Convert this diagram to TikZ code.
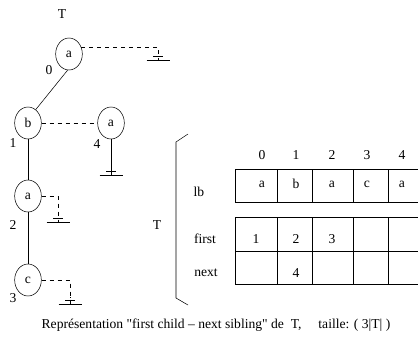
\documentclass[tikz,border=0pt]{standalone}
\usepackage{fontspec}
\setmainfont{Liberation Serif}
\usetikzlibrary{shapes.geometric}

\tikzset{
	vtx/.style={draw, ellipse, minimum width=20pt, minimum height=24pt, inner sep=0pt},
	gnd/.pic={\draw (-11.5,0) -- (11.5,0); \draw (-5,3.5) -- (5,3.5); \draw (0,6) -- (0,7);}
}

\begin{document}
\begin{tikzpicture}[x=0.75pt,y=0.75pt,yscale=-1,xscale=1,font=\fontsize{10.2}{12}\selectfont]
			\useasboundingbox (0,0) rectangle (418,351);

			%Tree nodes
			\node (tT) at (62,14) {T};
			\node [vtx] (n0) at (69,54) {a};
			\node [vtx] (n1) at (28,123) {b};
			\node [vtx] (n4) at (111,123) {a};
			\node [vtx] (n2) at (28,196) {a};
			\node [vtx] (n3) at (28,280) {c};
			\node (l0) at (49,70) {0};
			\node (l1) at (13,143) {1};
			\node (l4) at (97,144) {4};
			\node (l2) at (13,225) {2};
			\node (l3) at (13,298) {3};

			%Ground points
			\coordinate (g0) at (158,60);
			\coordinate (g4) at (111,175);
			\coordinate (g2) at (58,222);
			\coordinate (g3) at (70,304);

			%Child links
			\draw (n0.-95) -- (n1.60);
			\draw (n1) -- (n2);
			\draw (n2) -- (n3);
			\draw (n4) -- (g4);
			%Sibling links
			\draw [dashed] (n0.30) -| (g0);
			\draw [dashed] (n1.east) -- (n4.west);
			\draw [dashed] (n2.east) -| (g2);
			\draw [dashed] (n3.east) -| (g3);
			\foreach \g in {g0,g4,g2,g3} \pic at (\g) {gnd};

			%Bracket
			\node (tT2) at (157,225) {T};
			\draw (188,134) -- (176,142) -- (176,298) -- (188,305);

			%Table lb
			\draw (418,169) -- (235,169) -- (235,202) -- (418,202);
			\foreach \x in {277,312,353,388} \draw (\x,169) -- (\x,202);
			%Table first / next
			\draw (418,217) -- (235,217) -- (235,284) -- (418,284);
			\draw (235,251) -- (418,251);
			\foreach \x in {277,312,353,388} \draw (\x,217) -- (\x,284);

			% Text Nodes
			\foreach \i/\x/\c in {0/262/a,1/296/b,2/332/a,3/367/c,4/402/a} {
				\node (idx\i) at (\x,155) {\i};
				\node (lb\i) at (\x,184) {\c};
			}
			\node (tlb) at (199,192) {lb};
			\node (tfirst) at (205,239) {first};
			\node (tnext) at (206,273) {next};
			\node (f0) at (256,239) {1};
			\node (f1) at (296,239) {2};
			\node (f2) at (332,239) {3};
			\node (x1) at (296,273) {4};

			\node (cap) at (216,325) {Représentation \textquotedbl first child -- next sibling\textquotedbl{} de\ \ T,\quad\ taille: ( 3|T| )};
\end{tikzpicture}
\end{document}
